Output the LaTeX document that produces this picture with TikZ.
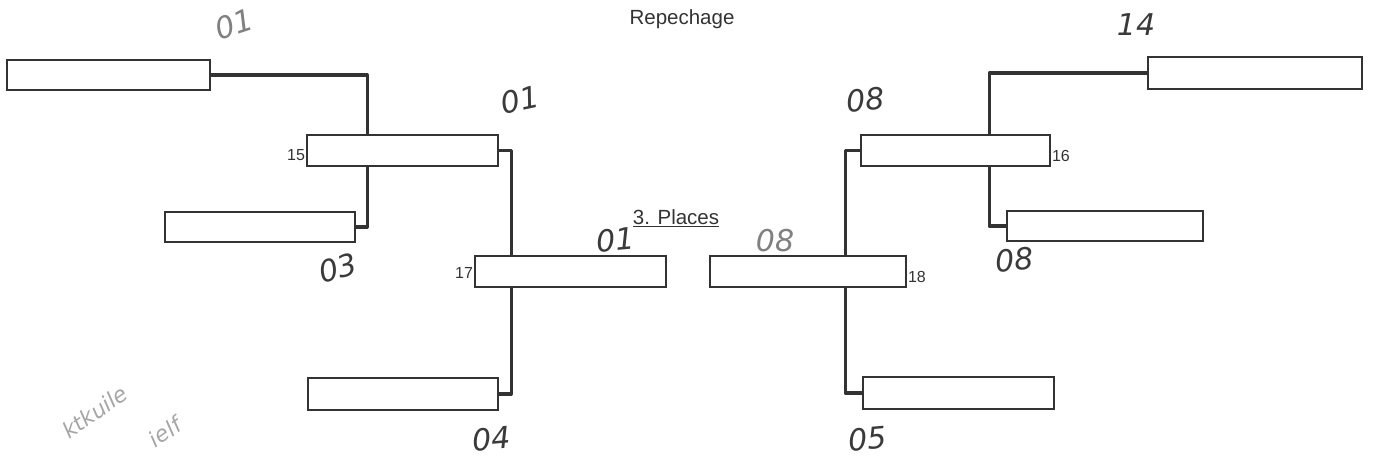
\documentclass[tikz,border=0pt]{standalone}
\usepackage{fontspec}
\setmainfont{Liberation Sans}
\newfontfamily\handfont{DejaVu Sans}
\usetikzlibrary{positioning}
\definecolor{ink}{HTML}{333333}
\definecolor{pen}{HTML}{3A3A3A}
\tikzset{
  slot/.style={draw=ink, line width=1.6pt, fill=white, inner sep=0pt, minimum width=#1},
  slot/.default=191pt,
  conn/.style={draw=ink, line width=3.2pt, line join=round},
  num/.style={font=\fontsize{16}{17}\selectfont, text=ink, inner sep=1pt},
  hand/.style={font=\handfont\itshape\fontsize{30}{32}\selectfont, text=pen, inner sep=0pt},
  faint/.style={font=\handfont\itshape\fontsize{22}{24}\selectfont, text=black!35, inner sep=0pt}
}
\begin{document}
\begin{tikzpicture}[x=1pt,y=-1pt]
\useasboundingbox (0,0) rectangle (1375,461);
% title
\node[font=\fontsize{20.5}{22}\selectfont, text=ink] (title) at (682,19) {Repechage};
% left bracket boxes
\node[slot=203pt, minimum height=30pt] (nA) at (108.5,75) {};
\node[slot=191pt, minimum height=31pt] (n15) at (402.5,150.5) {};
\node[slot=190pt, minimum height=30pt] (n03) at (260,227) {};
\node[slot=191pt, minimum height=31pt] (n17) at (570.5,271.5) {};
\node[slot=190pt, minimum height=32pt] (n04) at (403,394) {};
% right bracket boxes
\node[slot=214pt, minimum height=32pt] (n14) at (1255,73) {};
\node[slot=189pt, minimum height=31pt] (n16) at (955.5,150.5) {};
\node[slot=196pt, minimum height=30pt] (n08) at (1105,226) {};
\node[slot=196pt, minimum height=31pt] (n18) at (808,271.5) {};
\node[slot=191pt, minimum height=32pt] (n05) at (958.5,393) {};
% connectors left
\draw[conn] (nA.east) -| ([xshift=61pt]n15.north west);
\draw[conn] ([xshift=61pt]n15.south west) |- (n03.east);
\draw[conn] (n15.east) -| ([xshift=37pt]n17.north west);
\draw[conn] ([xshift=37pt]n17.south west) |- (n04.east);
% connectors right
\draw[conn] (n14.west) -| ([xshift=129pt]n16.north west);
\draw[conn] ([xshift=129pt]n16.south west) |- (n08.west);
\draw[conn] (n16.west) -| ([xshift=136pt]n18.north west);
\draw[conn] ([xshift=136pt]n18.south west) |- (n05.west);
% match numbers
\node[num, anchor=east] (l15) at ([yshift=-5pt]n15.west) {15};
\node[num, anchor=east] (l17) at ([yshift=-1pt]n17.west) {17};
\node[num, anchor=west] (l16) at ([yshift=-5pt]n16.east) {16};
\node[num, anchor=west] (l18) at ([yshift=-5pt]n18.east) {18};
% third places
\node[font=\fontsize{20.5}{22}\selectfont, text=ink, inner sep=0pt] (places) at (676,218) {\underline{3. Places}};
% handwritten marks
\node[hand, text=black!50, rotate=18] (h1) at (234,24) {01};
\node[hand, rotate=12] (h2) at (520,100) {01};
\node[hand, rotate=15] (h3) at (338,268) {03};
\node[hand, rotate=5] (h4) at (616,240) {01};
\node[hand, rotate=5] (h5) at (492,439) {04};
\node[hand, text=black!50] (h6) at (775,241) {08};
\node[hand, rotate=5] (h7) at (866,100) {08};
\node[hand] (h8) at (1136,25) {14};
\node[hand, rotate=5] (h9) at (1015,260) {08};
\node[hand, rotate=5] (h10) at (868,439) {05};
\node[faint, rotate=35] (h11) at (95,412) {ktkuile};
\node[faint, rotate=35] (h12) at (165,432) {ielf};
\end{tikzpicture}
\end{document}
